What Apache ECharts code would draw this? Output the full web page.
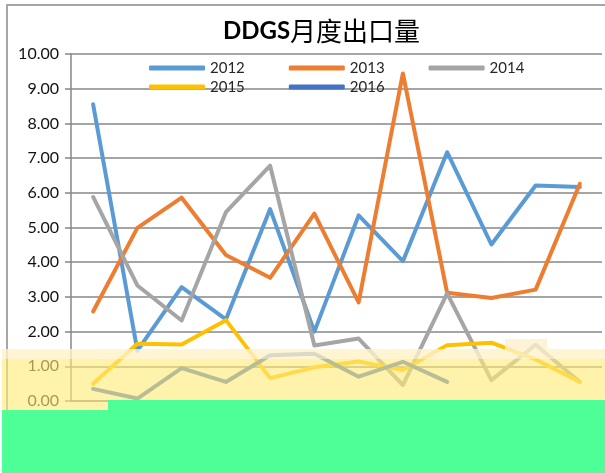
<!DOCTYPE html>
<html>
<head>
<meta charset="utf-8">
<script src="https://cdn.jsdelivr.net/npm/echarts@6/dist/echarts.min.js"></script>
<style>
  html, body { margin: 0; padding: 0; background: #ffffff; }
  #chart { width: 605px; height: 473px; }
</style>
</head>
<body>
<div id="chart"></div>
<script>
// Monthly DDGS export volume, one series per year
const months = ['1月', '2月', '3月', '4月', '5月', '6月', '7月', '8月', '9月', '10月', '11月', '12月'];
const years = ['2012', '2013', '2014', '2015', '2016'];
const v2012 = [8.55, 1.45, 3.28, 2.35, 5.53, 2.00, 5.35, 4.03, 7.17, 4.51, 6.21, 6.17];
const v2013 = [2.58, 4.99, 5.86, 4.21, 3.55, 5.40, 2.84, 9.44, 3.12, 2.97, 3.21, 6.26];
const v2014 = [5.88, 3.33, 2.32, 5.44, 6.78, 1.60, 1.80, 0.46, 3.10, 0.60, 1.62, 0.55];
const v2015 = [0.50, 1.65, 1.63, 2.33, 0.66, 0.97, 1.14, 0.89, 1.61, 1.68, 1.20, 0.55];
const v2016 = [0.35, 0.07, 0.95, 0.55, 1.32, 1.36, 0.70, 1.13, 0.55];
const yTicks = [0, 1, 2, 3, 4, 5, 6, 7, 8, 9, 10];

const colors = ['#5B9BD5', '#ED7D31', '#A5A5A5', '#FFC000', '#4472C4'];
const values = [v2012, v2013, v2014, v2015, v2016];

const chart = echarts.init(document.getElementById('chart'), null, { renderer: 'canvas' });

const series = years.map((name, i) => ({
  name: name,
  type: 'line',
  data: values[i],
  symbol: 'none',
  smooth: false,
  color: colors[i],
  lineStyle: { width: 4, color: colors[i], cap: 'round', join: 'round' },
  emphasis: { disabled: true }
}));

const legendText = { fontFamily: 'Lato', fontSize: 15, color: '#262626', lineHeight: 16 };

chart.setOption({
  animation: false,
  backgroundColor: '#ffffff',
  title: {
    text: '{a|DDGS}{b|月度出口量}',
    left: 218,
    top: 13,
    textStyle: {
      rich: {
        a: { fontFamily: 'Lato', fontWeight: 'bold', fontSize: 24, color: '#000000' },
        b: { fontFamily: 'Noto Sans CJK SC', fontWeight: 'normal', fontSize: 26, color: '#000000' }
      }
    }
  },
  legend: [
    {
      data: years.slice(0, 3),
      left: 144, top: 55,
      icon: 'roundRect', itemWidth: 56, itemHeight: 5, itemGap: 44,
      textStyle: legendText
    },
    {
      data: years.slice(3),
      left: 144, top: 74,
      icon: 'roundRect', itemWidth: 56, itemHeight: 5, itemGap: 44,
      textStyle: legendText
    }
  ],
  grid: { left: 71, right: 3, top: 54, bottom: 72, containLabel: false },
  xAxis: {
    type: 'category',
    data: months,
    boundaryGap: true,
    axisLine: { show: true, lineStyle: { color: '#878787', width: 1.5 } },
    axisTick: { show: false },
    axisLabel: { show: false },
    splitLine: { show: false }
  },
  yAxis: {
    type: 'value',
    min: yTicks[0],
    max: yTicks[yTicks.length - 1],
    interval: 1,
    axisLine: { show: true, lineStyle: { color: '#878787', width: 1.5 } },
    axisTick: { show: true, length: 6, lineStyle: { color: '#878787', width: 1.5 } },
    axisLabel: {
      margin: 12,
      fontFamily: 'Lato', fontSize: 16, color: '#111111',
      formatter: v => v.toFixed(2)
    },
    splitLine: { show: true, lineStyle: { color: '#878787', width: 1.5 } }
  },
  graphic: [
    // outer chart frame
    { type: 'rect', z: 100, silent: true,
      shape: { x: 7, y: 5, width: 620, height: 500 },
      style: { fill: 'none', stroke: '#a6a6a6', lineWidth: 2 } },
    // pale cream strip
    { type: 'rect', z: 101, silent: true,
      shape: { x: 2, y: 349, width: 603, height: 10 },
      style: { fill: 'rgba(255,243,200,0.8)' } },
    { type: 'rect', z: 101, silent: true,
      shape: { x: 505, y: 339, width: 42, height: 10 },
      style: { fill: 'rgba(255,240,205,0.8)' } },
    // yellow band
    { type: 'rect', z: 101, silent: true,
      shape: { x: 2, y: 359, width: 603, height: 52 },
      style: { fill: 'rgba(255,236,120,0.62)' } },
    // green band
    { type: 'rect', z: 102, silent: true,
      shape: { x: 108, y: 400, width: 497, height: 12 },
      style: { fill: '#4DFF96' } },
    { type: 'rect', z: 102, silent: true,
      shape: { x: 2, y: 410, width: 603, height: 63 },
      style: { fill: '#4DFF96' } }
  ],
  series: series
});
</script>
</body>
</html>
